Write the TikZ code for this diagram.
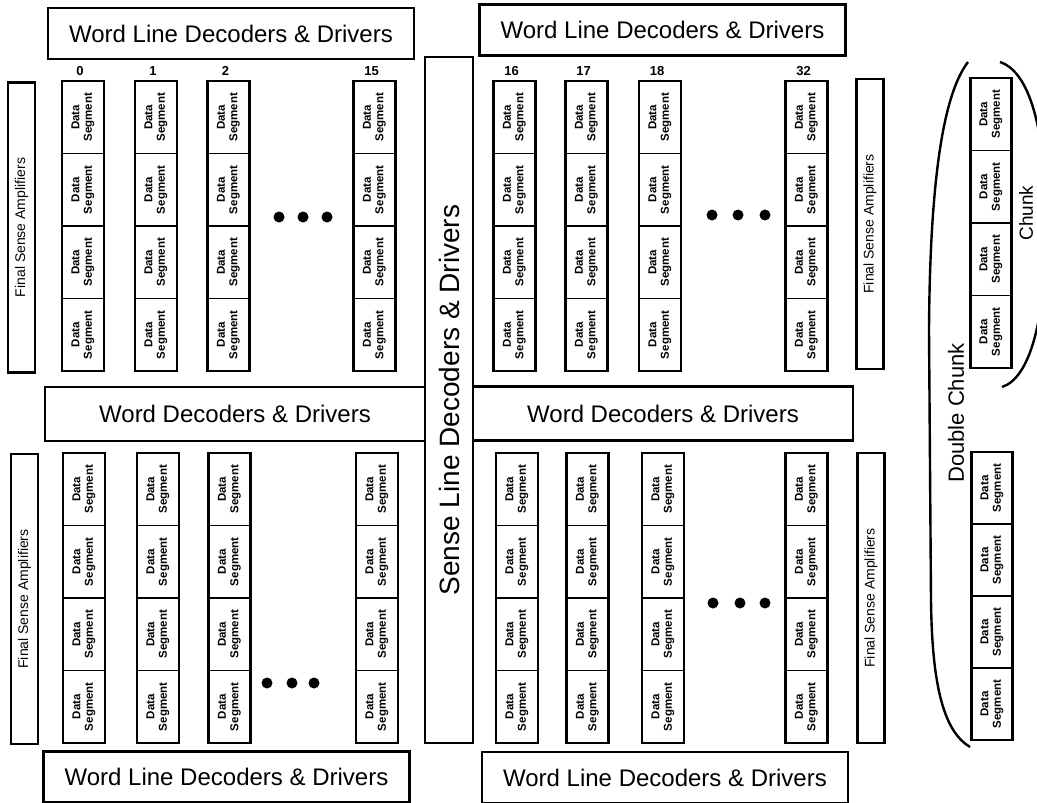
\documentclass[tikz,border=0pt]{standalone}
\usepackage{fontspec}
\setmainfont{Liberation Sans}
\usetikzlibrary{positioning}

\begin{document}
\begin{tikzpicture}[x=1pt,y=-1pt,
    wlbox/.style={draw,line width=2.6pt,minimum width=366pt,minimum height=51pt,inner sep=0pt,
                  font=\fontsize{24}{28}\selectfont},
    wdbox/.style={wlbox,minimum width=380pt,minimum height=54pt},
    senbox/.style={draw,line width=2.6pt,rotate=90,minimum width=686pt,minimum height=48pt,inner sep=0pt,
                   font=\fontsize{28}{32}\selectfont},
    fsabox/.style={draw,line width=2.6pt,rotate=90,minimum width=290pt,minimum height=27pt,inner sep=0pt,
                   font=\fontsize{14}{16}\selectfont},
    colbox/.style={draw,line width=2.8pt,minimum width=42pt,minimum height=290pt,inner sep=0pt},
    seg/.style={draw,line width=1.4pt,rotate=90,minimum width=72.5pt,minimum height=42pt,inner sep=0pt,
                align=center,font=\bfseries\fontsize{11.5}{12.5}\selectfont},
    numlbl/.style={font=\bfseries\fontsize{13}{15}\selectfont,inner sep=0pt,anchor=base},
    dot/.style={circle,fill,inner sep=0pt,minimum size=11pt},
    bracket/.style={line width=2.4pt},
    tag/.style={rotate=90,inner sep=0pt},
  ]
  \useasboundingbox (0,0) rectangle (1037,803);

  % decoder and driver blocks
  \node[wlbox] (wltl) at (231,33.5) {Word Line Decoders \& Drivers};
  \node[wlbox] (wltr) at (662.5,30) {Word Line Decoders \& Drivers};
  \node[wlbox] (wlbl) at (226.5,777) {Word Line Decoders \& Drivers};
  \node[wlbox] (wlbr) at (665,777.5) {Word Line Decoders \& Drivers};
  \node[wdbox] (wdl) at (235,414) {Word Decoders \& Drivers};
  \node[wdbox] (wdr) at (663,413.5) {Word Decoders \& Drivers};
  \node[senbox] (sense) at (449,400) {Sense Line Decoders \& Drivers};

  % final sense amplifiers
  \node[fsabox] (fsaul) at (21.5,227.5) {Final Sense Amplifiers};
  \node[fsabox] (fsall) at (24.5,599) {Final Sense Amplifiers};
  \node[fsabox] (fsaur) at (870,224) {Final Sense Amplifiers};
  \node[fsabox] (fsalr) at (871,598) {Final Sense Amplifiers};

  % upper columns of data segments
  \foreach \name/\cx/\num in {c0/83/0,c1/156/1,c2/228.5/2,c15/374.5/15,
                               c16/514.5/16,c17/586.5/17,c18/660/18,c32/806.5/32}{
    \foreach \k in {1,...,4}
      \node[seg] (u\name s\k) at (\cx,{81+72.5*(\k-0.5)}) {Data\\Segment};
    \node[colbox] (u\name) at (\cx,226) {};
    \node[numlbl] (n\name) at ([xshift=-3pt,yshift=4pt]u\name.north) {\num};
  }

  % lower columns of data segments
  \foreach \name/\cx in {c0/84,c1/158,c2/229.5,c15/377,
                         c16/517,c17/587.5,c18/663,c32/806.5}{
    \foreach \k in {1,...,4}
      \node[seg] (l\name s\k) at (\cx,{453+72.5*(\k-0.5)}) {Data\\Segment};
    \node[colbox] (l\name) at (\cx,598) {};
  }

  % ellipsis dots
  \foreach \i/\x in {1/279,2/303,3/327} \node[dot] (dul\i) at (\x,217) {};
  \foreach \i/\x in {1/712,2/738,3/765} \node[dot] (dur\i) at (\x,215) {};
  \foreach \i/\x in {1/267,2/292,3/314} \node[dot] (dll\i) at (\x,683) {};
  \foreach \i/\x in {1/713,2/740,3/765} \node[dot] (dlr\i) at (\x,603) {};

  % chunk and double chunk
  \foreach \k in {1,...,4}
    \node[seg] (chus\k) at (991,{78+72.5*(\k-0.5)}) {Data\\Segment};
  \node[colbox,minimum width=41pt] (chu) at (991,223) {};
  \foreach \k in {1,...,4}
    \node[seg] (chls\k) at (992,{452+72*(\k-0.5)}) {Data\\Segment};
  \node[colbox,minimum width=41pt,minimum height=288pt] (chl) at (992,596) {};

  \coordinate (dctop) at (968,62);
  \coordinate (dcbot) at (970,747);
  \coordinate (chtop) at (1000,62);
  \coordinate (chbot) at (1002,387);
  \draw[bracket] (dctop) .. controls (945,92) and (930,170) .. (929,330)
                 -- (931,600) .. controls (932,690) and (945,732) .. (dcbot);
  \draw[bracket] (chtop) .. controls (1030,72) and (1046,130) .. (1046,225)
                 .. controls (1046,320) and (1030,378) .. (chbot);
  \node[tag,font=\fontsize{22}{26}\selectfont] (dclbl) at (956,413) {Double Chunk};
  \node[tag,font=\fontsize{19}{22}\selectfont] (chlbl) at (1026,213) {Chunk};
\end{tikzpicture}
\end{document}
